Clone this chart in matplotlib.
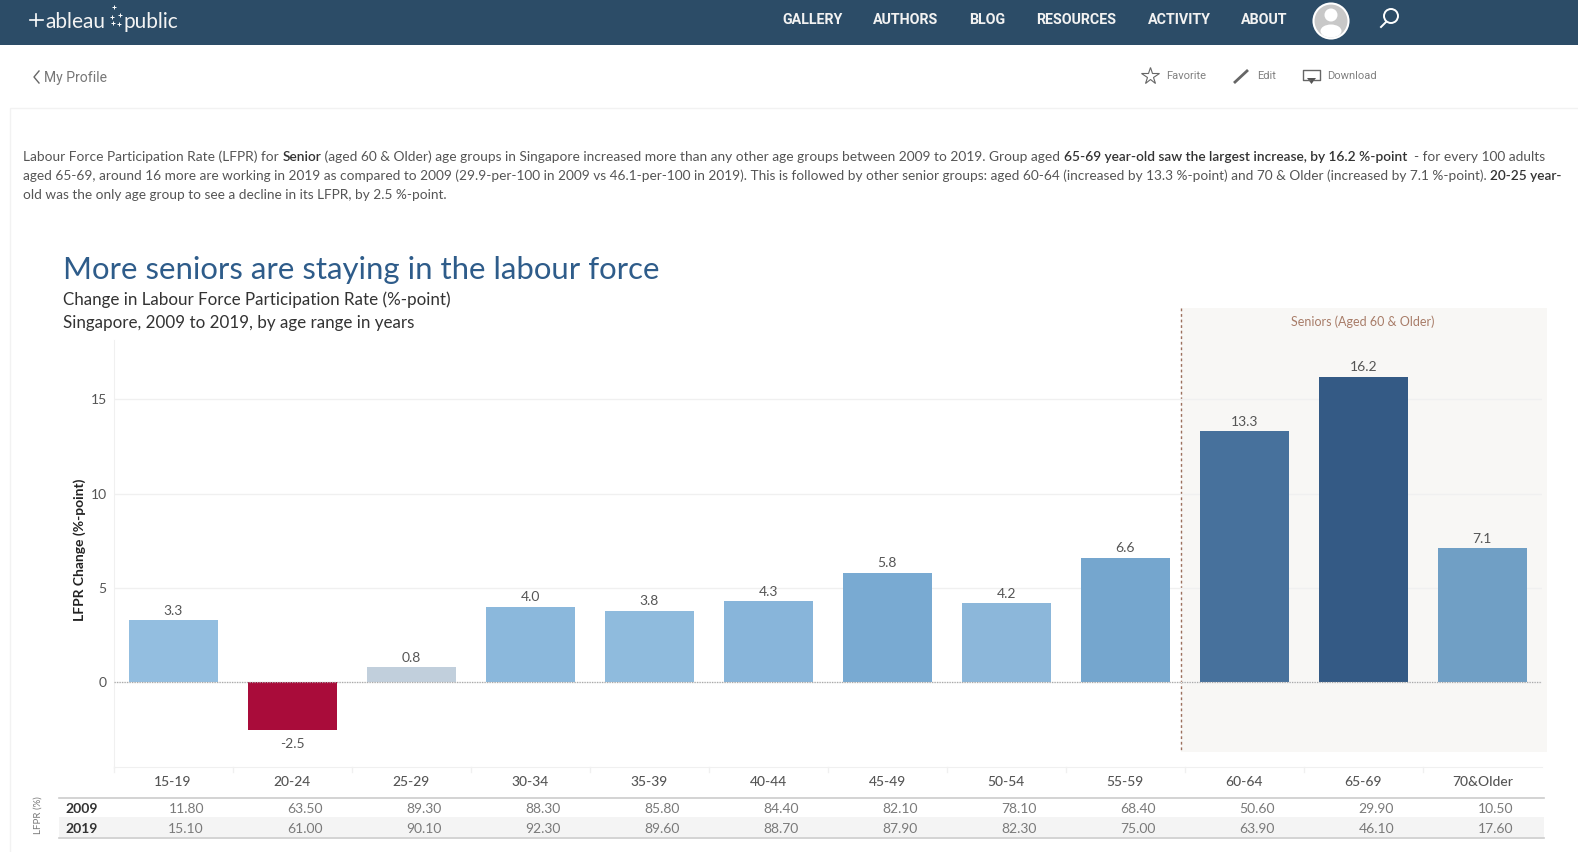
import matplotlib
matplotlib.use("Agg")
import matplotlib.pyplot as plt
from matplotlib.patches import Rectangle, Circle, Ellipse, Polygon
from matplotlib.transforms import blended_transform_factory, offset_copy

plt.rcParams['font.family'] = ['Lato', 'DejaVu Sans']

# Data
age_groups = ['15-19', '20-24', '25-29', '30-34', '35-39', '40-44',
              '45-49', '50-54', '55-59', '60-64', '65-69', '70&Older']
lfpr_change = [3.3, -2.5, 0.8, 4.0, 3.8, 4.3, 5.8, 4.2, 6.6, 13.3, 16.2, 7.1]
lfpr_2009 = ['11.80', '63.50', '89.30', '88.30', '85.80', '84.40',
             '82.10', '78.10', '68.40', '50.60', '29.90', '10.50']
lfpr_2019 = ['15.10', '61.00', '90.10', '92.30', '89.60', '88.70',
             '87.90', '82.30', '75.00', '63.90', '46.10', '17.60']
bar_colors = ['#93bee0', '#a90c3a', '#c1cfdc', '#8bb8dc', '#8fbbdd', '#88b5da',
              '#79aad2', '#8cb7da', '#75a6ce', '#47719c', '#345a85', '#709fc5']
nav_items = [('GALLERY', 782), ('AUTHORS', 873), ('BLOG', 969), ('RESOURCES', 1036),
             ('ACTIVITY', 1148), ('ABOUT', 1241)]
y_ticks = [0, 5, 10, 15]

intro_lines = [
    [("Labour Force Participation Rate (LFPR) for ", False), ("Senior", True),
     (" (aged 60 & Older) age groups in Singapore increased more than any other age groups between 2009 to 2019. Group aged ", False),
     ("65-69 year-old saw the largest increase, by 16.2 %-point", True), ("  - for every 100 adults", False)],
    [("aged 65-69, around 16 more are working in 2019 as compared to 2009 (29.9-per-100 in 2009 vs 46.1-per-100 in 2019). This is followed by other senior groups: aged 60-64 (increased by 13.3 %-point) and 70 & Older (increased by 7.1 %-point). ", False),
     ("20-25 year-", True)],
    [("old was the only age group to see a decline in its LFPR, by 2.5 %-point.", False)],
]

W, H = 1578, 852
fig = plt.figure(figsize=(W / 100, H / 100), dpi=100, facecolor='white')

# Page furniture, drawn in pixel coordinates
page = fig.add_axes([0, 0, 1, 1], zorder=0)
page.set_xlim(0, W)
page.set_ylim(H, 0)
page.axis('off')

page.add_patch(Rectangle((0, 0), W, 45, color='#2c4c67', lw=0))
page.plot([30, 43], [20, 20], color='white', lw=1.2)
page.plot([36.5, 36.5], [14, 26], color='white', lw=1.2)
page.text(45, 22, 'ableau', color='#f4f4f4', fontsize=15, va='center', family='Lato')
page.text(124, 22, 'public', color='#f4f4f4', fontsize=15, va='center', family='Lato')
page.plot([114, 112, 120, 113, 119], [7, 17, 15, 23, 24], ls='none', marker='+', ms=3, mew=0.7, color='white')
for name, x in nav_items:
    page.text(x, 20.5, name, color='#f2f2f2', fontsize=10.3, weight='bold', va='center', family='Roboto')
page.add_patch(Circle((1331, 21), 17.5, fc='#c8c8c8', ec='white', lw=1.5))
page.add_patch(Circle((1331, 15), 6.5, fc='white', lw=0))
page.add_patch(Ellipse((1331, 31), 21, 13, fc='white', lw=0))
page.add_patch(Circle((1391, 16), 7, fc='none', ec='white', lw=1.4))
page.plot([1386, 1381], [22, 27], color='white', lw=1.4)

page.plot([39, 34, 39], [71, 77, 83], color='#666666', lw=1)
page.text(44, 78, 'My Profile', color='#777777', fontsize=10.1, va='center', family='Roboto')

page.plot([1150.5], [75.5], marker='*', ms=13, mfc='white', mec='#666666', mew=0.8)
page.text(1166, 76, 'Favorite', color='#808080', fontsize=8, va='center', family='Roboto')
page.plot([1234, 1248], [83, 70], color='#666666', lw=2, solid_capstyle='butt')
page.text(1257, 76, 'Edit', color='#808080', fontsize=8, va='center', family='Roboto')
page.plot([1310, 1303, 1303, 1320, 1320, 1314], [80, 80, 70, 70, 80, 80], color='#666666', lw=1)
page.add_patch(Polygon([[1307, 78], [1316, 78], [1311.5, 84]], color='#555555', lw=0))
page.text(1327, 76, 'Download', color='#808080', fontsize=8, va='center', family='Roboto')

# card outline
page.plot([10, 10, W], [H, 108, 108], color='#f2f2f2', lw=1)

# Seniors highlight
page.add_patch(Rectangle((1181.5, 308), 365.5, 444, color='#f8f7f5', lw=0))

# Intro text with bold runs
fig.canvas.draw()
renderer = fig.canvas.get_renderer()
for line, y, size in zip(intro_lines, [157, 175.5, 195], [9.88, 9.79, 9.8]):
    x = 23
    for run, bold in line:
        weight = 'semibold' if bold else 'normal'
        page.text(x, y, run, fontsize=size, color='#333333' if bold else '#555555',
                  weight=weight, va='center')
        # keep leading/trailing spaces in the measure
        w = page.text(0, 0, run.replace(' ', '\u00a0'), fontsize=size,
                      weight=weight).get_window_extent(renderer).width
        page.texts[-1].remove()
        x += w

page.text(63, 270, 'More seniors are staying in the labour force', color='#2e5c8a', fontsize=22.38, va='center')
page.text(63, 299.5, 'Change in Labour Force Participation Rate (%-point)', color='#333333', fontsize=12.28, va='center')
page.text(63, 323, 'Singapore, 2009 to 2019, by age range in years', color='#333333', fontsize=12.28, va='center')

# Main chart
ax_left, ax_right, ax_top, ax_bottom = 113.6, 1541.9, 340, 766.7
ax = fig.add_axes([ax_left / W, 1 - ax_bottom / H, (ax_right - ax_left) / W, (ax_bottom - ax_top) / H],
                  zorder=1, facecolor='none')
positions = list(range(len(age_groups)))
ax.bar(positions, lfpr_change, width=0.748, color=bar_colors, zorder=3)
ax.set_xlim(-0.5, 11.5)
ax.set_ylim(-4.47, 18.15)
ax.set_yticks(y_ticks)
ax.set_xticks([])
ax.tick_params(axis='y', length=0, labelsize=10, labelcolor='#555555', pad=5)
ax.grid(axis='y', color='#f0f0f0', lw=1, zorder=1)
ax.axhline(0, color='#aaaaaa', lw=0.9, ls=(0, (1, 1)), zorder=4)
for side in ['top', 'right']:
    ax.spines[side].set_visible(False)
for side in ['left', 'bottom']:
    ax.spines[side].set_color('#f0f0f0')
ax.set_ylabel('LFPR Change (%-point)', fontsize=10, weight='bold', color='#222222', labelpad=3, y=0.509)

for x, v in zip(positions, lfpr_change):
    ax.annotate(f'{v}', (x, v), xytext=(0, 9.5 if v > 0 else -14), textcoords='offset pixels',
                ha='center', va='center', fontsize=10, color='#555555', zorder=5)

# Dashed divider and seniors label
page.plot([1181.5, 1181.5], [308, 752], color='#9c6f5c', lw=1, ls=(0, (2, 2)))
page.text(1363, 322, 'Seniors (Aged 60 & Older)', color='#a87c68', fontsize=9, ha='center', va='center')

# Table under the chart, x positions come from the chart axis
table = blended_transform_factory(ax.transData, page.transData)
value_trans = offset_copy(table, fig=fig, x=13, y=0, units='dots')
page.add_patch(Rectangle((59, 817), 1485, 20, color='#f4f4f4', lw=0))
page.plot([59, 1544], [797.5, 797.5], color='#cccccc', lw=1.2)
page.plot([59, 1544], [837.5, 837.5], color='#cccccc', lw=1.2)
page.text(38.5, 815.5, 'LFPR (%)', rotation=90, color='#777777', fontsize=7, ha='center', va='center')
page.text(65, 809, '2009', color='#333333', fontsize=10, weight='bold', va='center')
page.text(65, 829, '2019', color='#333333', fontsize=10, weight='bold', va='center')

for x, name, v09, v19 in zip(positions, age_groups, lfpr_2009, lfpr_2019):
    page.text(x, 782, name, transform=table, color='#555555', fontsize=10, ha='center', va='center',
              clip_on=False, weight='medium')
    page.text(x, 809, v09, transform=value_trans, color='#7a7a7a', fontsize=10, ha='center', va='center')
    page.text(x, 829, v19, transform=value_trans, color='#7a7a7a', fontsize=10, ha='center', va='center')
    page.plot([x - 0.5, x - 0.5], [767, 772], transform=table, color='#f0f0f0', lw=1)

fig.savefig('out.png', dpi=100)
